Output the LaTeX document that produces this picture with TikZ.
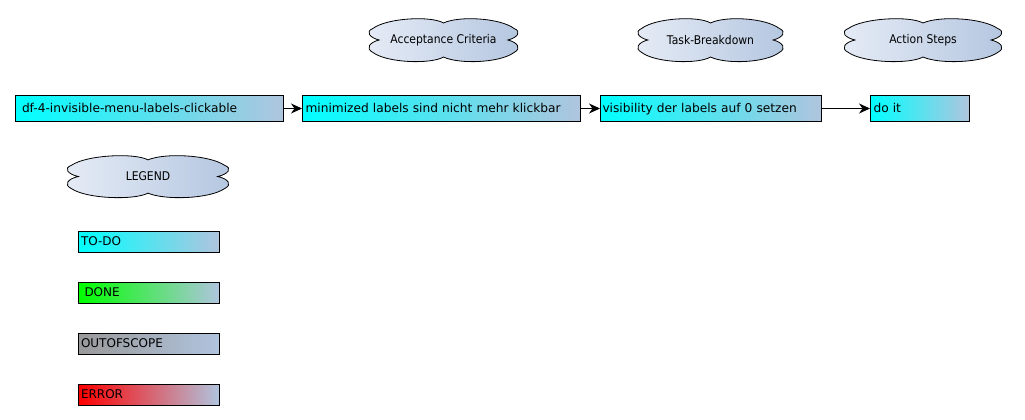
\documentclass[tikz,border=0pt]{standalone}
\usepackage{fontspec}
\setmainfont{DejaVu Sans}
\newfontfamily\cloudfont[FakeStretch=0.9]{DejaVu Sans}
\usetikzlibrary{arrows.meta}
\definecolor{lsb}{HTML}{B0C4DE}
\definecolor{cloudl}{HTML}{E6ECF6}
\definecolor{cloudr}{HTML}{B4C6E0}
\definecolor{todo}{HTML}{00FFFF}
\definecolor{done}{HTML}{00FF00}
\definecolor{oos}{HTML}{999999}
\definecolor{err}{HTML}{FF0000}
\newcommand\mycloudat[6]{%
  \begin{scope}[shift={(#2pt,-#3pt)}, x=#4pt, y=-#5pt]
    \path[cloudline] (0.09,0.5) .. controls (0.03,0.45) and (0.0,0.32) .. (0.05,0.25)
      .. controls (0.14,0.02) and (0.42,-0.03) .. (0.5,0.13)
      .. controls (0.6,-0.03) and (0.86,0.02) .. (0.95,0.25)
      .. controls (1.0,0.32) and (0.97,0.45) .. (0.91,0.5)
      .. controls (0.97,0.55) and (1.0,0.68) .. (0.95,0.77)
      .. controls (0.86,1.0) and (0.6,1.03) .. (0.5,0.87)
      .. controls (0.42,1.03) and (0.14,1.0) .. (0.05,0.77)
      .. controls (0.0,0.68) and (0.03,0.55) .. (0.09,0.5) -- cycle;
    \node[cloudtext] (#1) at (0.5,0.5) {#6};
  \end{scope}}
\begin{document}
\begin{tikzpicture}[x=1pt,y=-1pt,
  cloudline/.style={draw=black, line width=0.8pt, left color=cloudl, right color=cloudr},
  cloudtext/.style={font=\cloudfont\fontsize{12}{14}\selectfont, inner sep=0pt},
  box/.style={draw=black, line width=1pt, anchor=north west, align=left,
    inner ysep=0pt, text height=9.5pt, text depth=2.5pt, right color=lsb},
  mainbox/.style={box, minimum height=26pt, font=\fontsize{12.2}{14}\selectfont},
  legbox/.style={box, minimum height=21pt, inner xsep=2.5pt, text width=136pt,
    font=\fontsize{12}{14}\selectfont},
  arr/.style={line width=1pt, -{Stealth[length=11pt,width=10pt,inset=3.5pt]}}]
\useasboundingbox (0,0) rectangle (1025,420);
\fill[white] (0,0) rectangle (1025,420);
% clouds
\mycloudat{cac}{365}{17}{157}{46}{Acceptance Criteria}
\mycloudat{ctb}{634}{17}{153}{46}{Task-Breakdown}
\mycloudat{cas}{840}{17}{166}{46}{Action Steps}
\mycloudat{cleg}{63}{154}{170}{45}{LEGEND}
% main boxes
\node[mainbox, left color=todo, inner xsep=6.5pt, text width=255pt] (b1) at (15,95) {df-4-invisible-menu-labels-clickable};
\node[mainbox, left color=todo, inner xsep=3pt, text width=272pt] (b2) at (302,95) {minimized labels sind nicht mehr klickbar};
\node[mainbox, left color=todo, inner xsep=2pt, text width=217pt] (b3) at (600,95) {visibility der labels auf 0 setzen};
\node[mainbox, left color=todo, inner xsep=3pt, text width=93pt] (b4) at (870,95) {do it};
\draw[arr] (b1) -- (b2);
\draw[arr] (b2) -- (b3);
\draw[arr] (b3) -- (b4);
% legend
\node[legbox, left color=todo] (ltodo) at (78,231) {TO-DO};
\node[legbox, left color=done] (ldone) at (78,282) {\hspace*{3.5pt}DONE};
\node[legbox, left color=oos] (loos) at (78,333) {OUTOFSCOPE};
\node[legbox, left color=err] (lerr) at (78,384) {ERROR};
\end{tikzpicture}
\end{document}
